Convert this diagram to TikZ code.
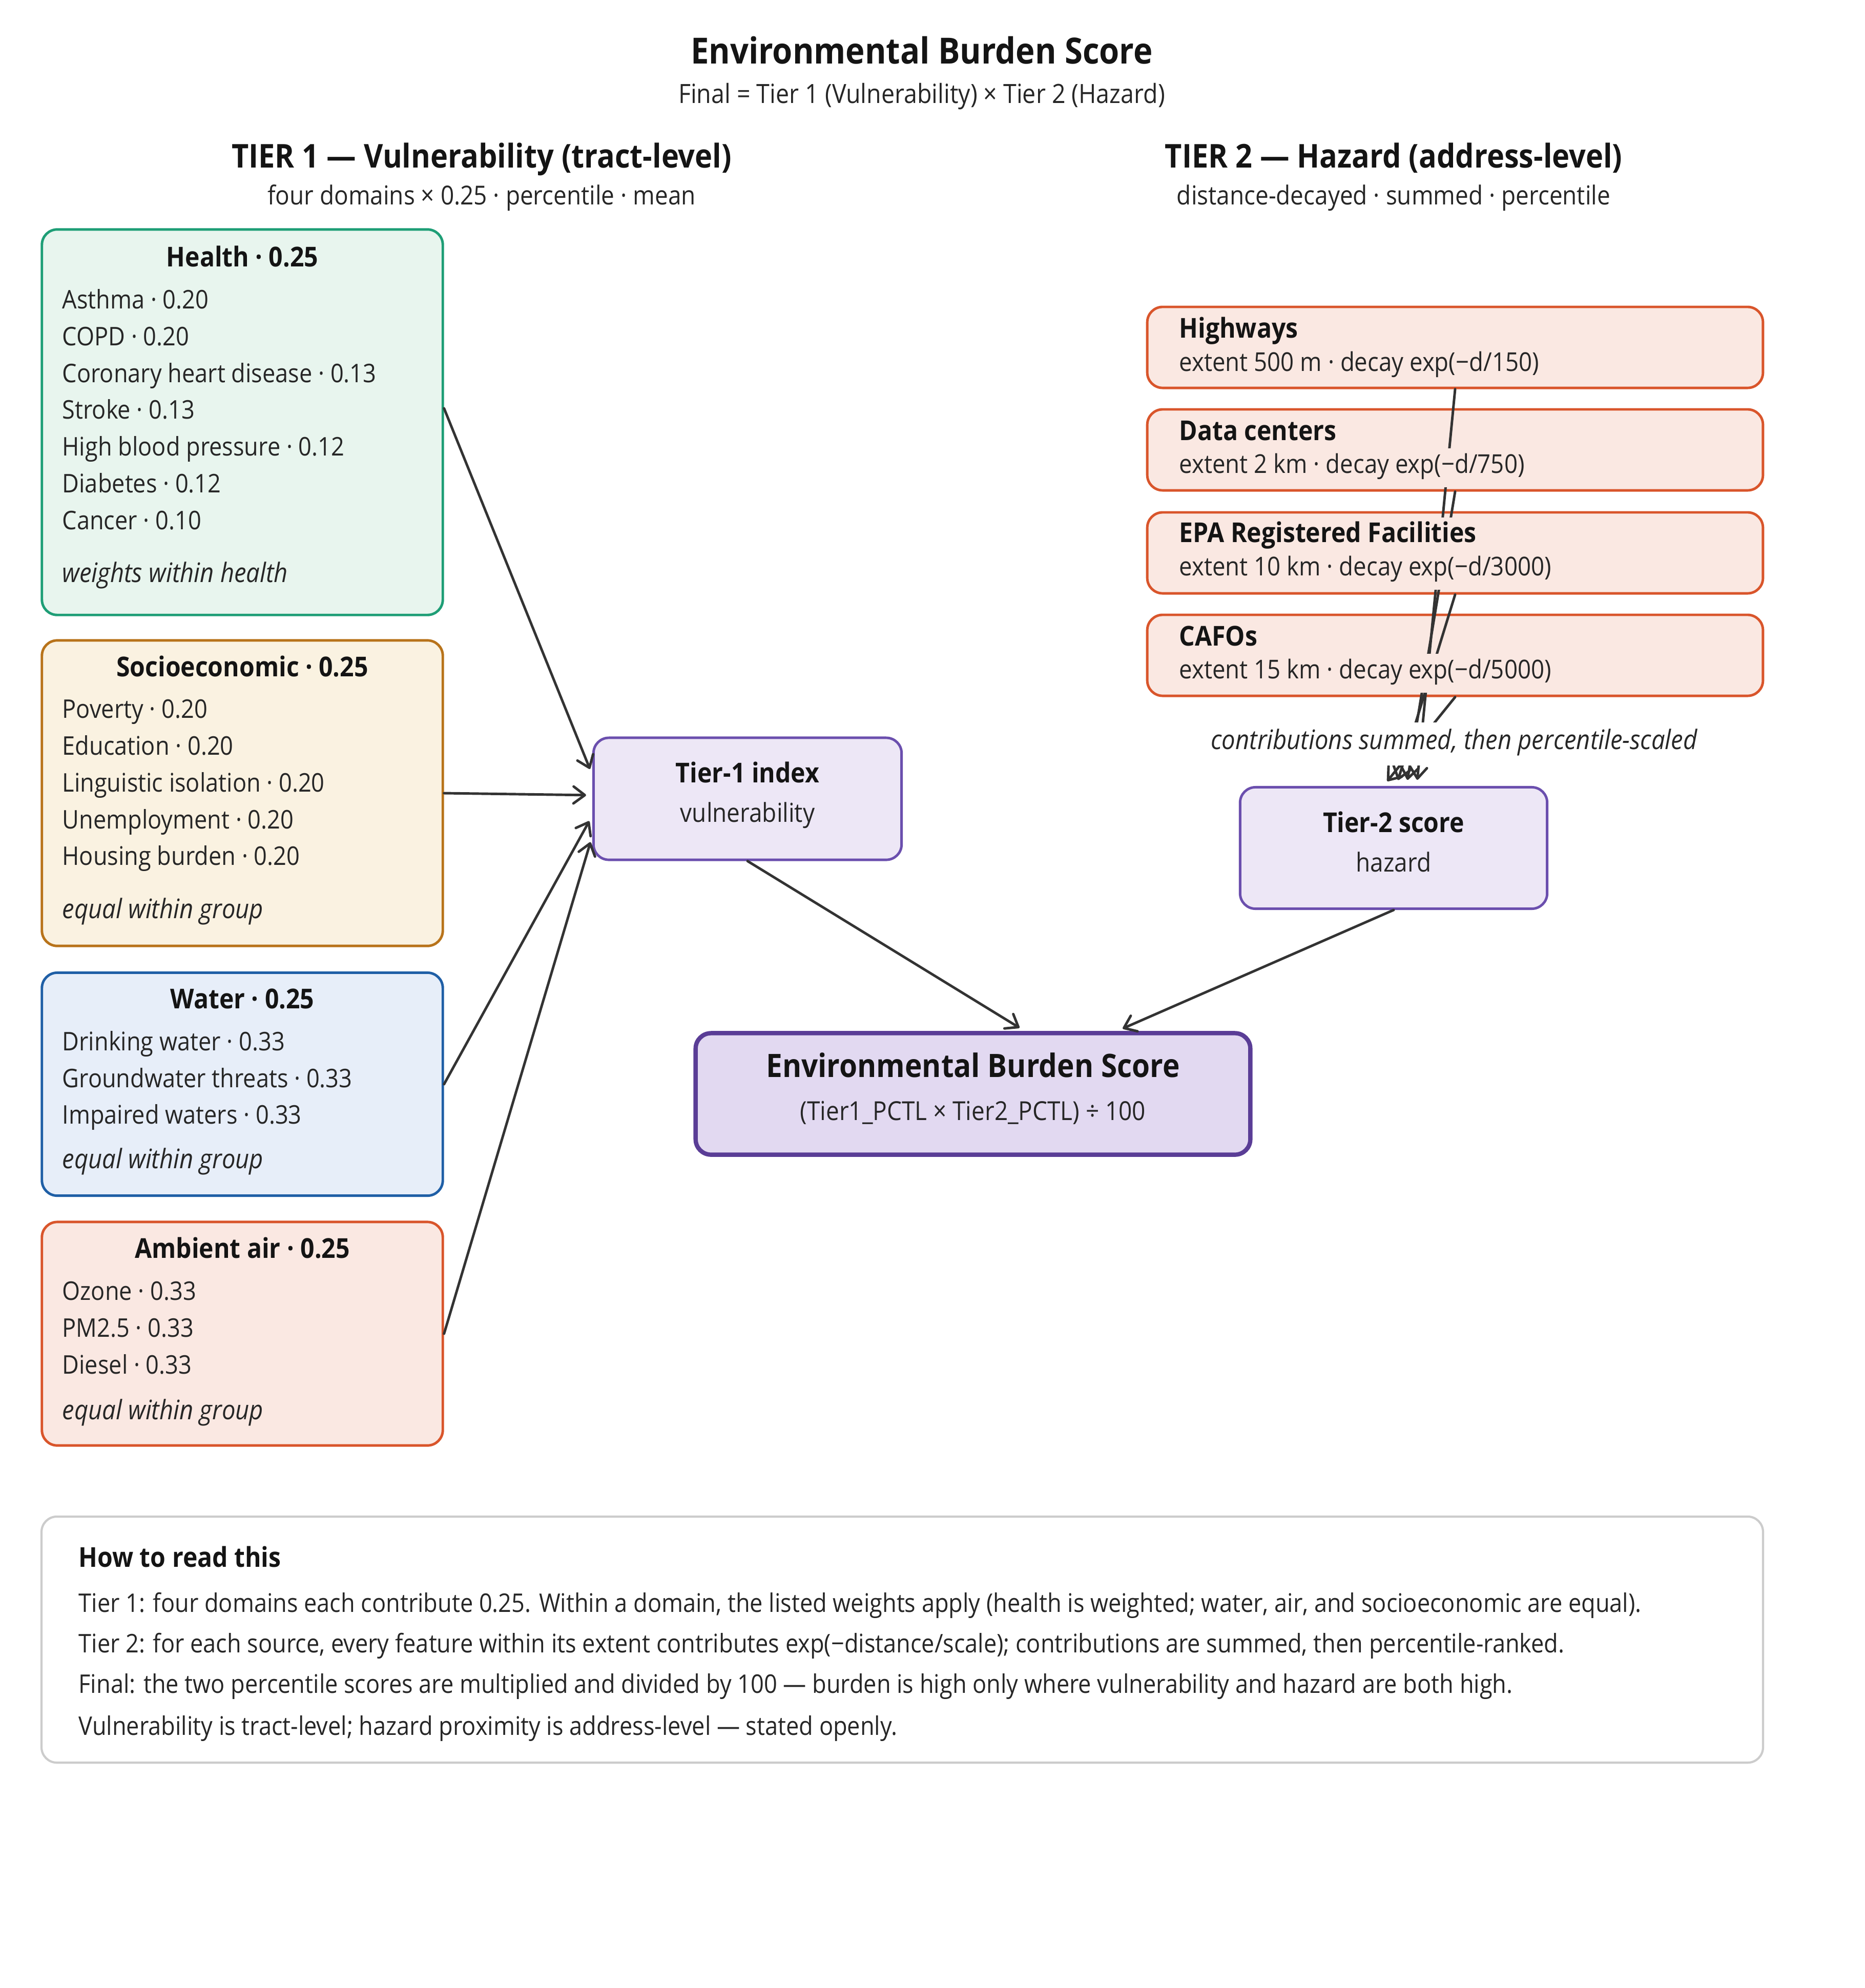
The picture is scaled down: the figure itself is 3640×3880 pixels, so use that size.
\documentclass[tikz,border=0pt]{standalone}
\usepackage{fontspec}
\setmainfont{Open Sans}[FakeStretch=0.9]
\usetikzlibrary{arrows.meta,positioning}

\definecolor{ink}{HTML}{141414}
\definecolor{body}{HTML}{262626}
\definecolor{wire}{HTML}{333333}
\definecolor{healthline}{HTML}{1E9E76}
\definecolor{healthfill}{HTML}{E8F5EE}
\definecolor{socioline}{HTML}{B8731A}
\definecolor{sociofill}{HTML}{FAF2E1}
\definecolor{waterline}{HTML}{1F5FA6}
\definecolor{waterfill}{HTML}{E7EEF9}
\definecolor{airline}{HTML}{D9552B}
\definecolor{airfill}{HTML}{FAE8E2}
\definecolor{indexline}{HTML}{6B4FAE}
\definecolor{indexfill}{HTML}{EDE7F6}
\definecolor{finalline}{HTML}{5A3D96}
\definecolor{finalfill}{HTML}{E2D9F1}
\definecolor{noteline}{HTML}{CCCCCC}

\tikzset{
  box/.style={draw, rounded corners=3mm, line width=1.4pt, inner sep=0pt},
  boxhead/.style={font=\fontsize{15.2}{18}\selectfont\bfseries, text=ink, inner sep=0pt,
    text height=1.55ex, text depth=.45ex, yshift=-0.08cm},
  item/.style={anchor=west, font=\fontsize{14.25}{17}\selectfont, text=body, inner sep=0pt,
    text height=1.55ex, text depth=.45ex, yshift=-0.08cm},
  aside/.style={item, font=\fontsize{14.9}{17}\selectfont\itshape},
  hazhead/.style={boxhead, anchor=west, fill=airfill, minimum height=0.76cm},
  hazitem/.style={item, font=\fontsize{14.4}{17}\selectfont, fill=airfill, minimum height=0.76cm},
  tierhead/.style={font=\fontsize{18.2}{21}\selectfont\bfseries, text=ink, inner sep=0pt,
    text height=1.55ex, text depth=.45ex, yshift=-0.08cm},
  tiersub/.style={font=\fontsize{14.5}{17}\selectfont, text=body, inner sep=0pt,
    text height=1.55ex, text depth=.45ex, yshift=-0.08cm},
  link/.style={draw=wire, line width=1.4pt, line cap=round,
    -{Straight Barb[length=2.2mm,width=3.3mm,round]}, shorten >=0.12cm},
}

\begin{document}
\begin{tikzpicture}[x=0.01cm, y=-0.01cm]
    \fill[white] (0,0) rectangle (3640,3880);
    \useasboundingbox (0,0) rectangle (3640,3880);

    % title
    \node[tierhead, font=\fontsize{20}{24}\selectfont\bfseries] (title) at (1799,106) {Environmental Burden Score};
    \node[tiersub, font=\fontsize{14.7}{17}\selectfont] (subtitle) at (1799,183) {Final = Tier 1 (Vulnerability) × Tier 2 (Hazard)};

    \node[tierhead] (tonehead) at (940,309) {TIER 1 — Vulnerability (tract-level)};
    \node[tiersub] (tonesub) at (940,381) {four domains × 0.25 · percentile · mean};
    \node[tierhead] (ttwohead) at (2720,309) {TIER 2 — Hazard (address-level)};
    \node[tiersub] (ttwosub) at (2720,381) {distance-decayed · summed · percentile};

    % tier 1 domains
    \node[box, draw=healthline, fill=healthfill, minimum width=7.82cm, minimum height=7.52cm] (health) at (473,824) {};
    \node[boxhead] (healthhead) at (473,502) {Health · 0.25};
    \node[item] (asthma) at (121,584) {Asthma · 0.20};
    \node[item] (copd) at (121,656) {COPD · 0.20};
    \node[item] (chd) at (121,728) {Coronary heart disease · 0.13};
    \node[item] (stroke) at (121,799) {Stroke · 0.13};
    \node[item] (bp) at (121,871) {High blood pressure · 0.12};
    \node[item] (diabetes) at (121,943) {Diabetes · 0.12};
    \node[item] (cancer) at (121,1015) {Cancer · 0.10};
    \node[aside] (healthnote) at (121,1118) {weights within health};

    \node[box, draw=socioline, fill=sociofill, minimum width=7.82cm, minimum height=5.96cm] (socio) at (473,1548) {};
    \node[boxhead] (sociohead) at (473,1302) {Socioeconomic · 0.25};
    \node[item] (poverty) at (121,1383) {Poverty · 0.20};
    \node[item] (education) at (121,1455) {Education · 0.20};
    \node[item] (linguistic) at (121,1527) {Linguistic isolation · 0.20};
    \node[item] (unemployment) at (121,1599) {Unemployment · 0.20};
    \node[item] (housing) at (121,1670) {Housing burden · 0.20};
    \node[aside] (socionote) at (121,1774) {equal within group};

    \node[box, draw=waterline, fill=waterfill, minimum width=7.82cm, minimum height=4.35cm] (water) at (473,2116) {};
    \node[boxhead] (waterhead) at (473,1950) {Water · 0.25};
    \node[item] (drinking) at (121,2032) {Drinking water · 0.33};
    \node[item] (groundwater) at (121,2104) {Groundwater threats · 0.33};
    \node[item] (impaired) at (121,2175) {Impaired waters · 0.33};
    \node[aside] (waternote) at (121,2262) {equal within group};

    \node[box, draw=airline, fill=airfill, minimum width=7.82cm, minimum height=4.36cm] (air) at (473,2603) {};
    \node[boxhead] (airhead) at (473,2437) {Ambient air · 0.25};
    \node[item] (ozone) at (121,2519) {Ozone · 0.33};
    \node[item] (pm) at (121,2591) {PM2.5 · 0.33};
    \node[item] (diesel) at (121,2663) {Diesel · 0.33};
    \node[aside] (airnote) at (121,2752) {equal within group};

    % index boxes
    \node[box, draw=indexline, fill=indexfill, minimum width=6.01cm, minimum height=2.38cm] (tone) at (1459,1559) {};
    \node[boxhead] (tonetitle) at (1459,1509) {Tier-1 index};
    \node[tiersub] (tonetext) at (1459,1586) {vulnerability};

    \node[box, draw=indexline, fill=indexfill, minimum width=5.99cm, minimum height=2.37cm] (ttwo) at (2720,1655) {};
    \node[boxhead] (ttwotitle) at (2720,1606) {Tier-2 score};
    \node[tiersub] (ttwotext) at (2720,1683) {hazard};

    \node[box, draw=finalline, fill=finalfill, line width=2.4pt, minimum width=10.82cm, minimum height=2.37cm] (final) at (1899,2135) {};
    \node[tierhead, font=\fontsize{17.9}{21}\selectfont\bfseries] (finaltitle) at (1899,2084) {Environmental Burden Score};
    \node[tiersub] (finaltext) at (1899,2168) {(Tier1\_PCTL × Tier2\_PCTL) ÷ 100};

    % tier 2 sources
    \node[box, draw=airline, fill=airfill, minimum width=12.01cm, minimum height=1.58cm] (hw) at (2840,678) {};
    \node[box, draw=airline, fill=airfill, minimum width=12.01cm, minimum height=1.58cm] (dc) at (2840,878) {};
    \node[box, draw=airline, fill=airfill, minimum width=12.01cm, minimum height=1.58cm] (epa) at (2840,1079) {};
    \node[box, draw=airline, fill=airfill, minimum width=12.01cm, minimum height=1.58cm] (cafo) at (2840,1279) {};

    % connectors
    \draw[link] ([yshift=0.27cm]health.east) -- ([yshift=0.47cm]tone.west);
    \draw[link] (socio.east) -- ([yshift=0.07cm]tone.west);
    \draw[link] (water.east) -- ([yshift=-0.33cm]tone.west);
    \draw[link] (air.east) -- ([yshift=-0.73cm]tone.west);

    \draw[link] (hw.south) -- ([xshift=0.45cm]ttwo.north);
    \draw[link] (dc.south) -- ([xshift=0.25cm]ttwo.north);
    \draw[link] (epa.south) -- ([xshift=0.05cm]ttwo.north);
    \draw[link] (cafo.south) -- ([xshift=-0.2cm]ttwo.north);

    \draw[link] (tone.south) -- ([xshift=1.01cm]final.north);
    \draw[link] (ttwo.south) -- ([xshift=2.81cm]final.north);

    % source labels go over the wires
    \node[hazhead] (hwhead) at (2301,641) {Highways};
    \node[hazitem] (hwtext) at (2301,706) {extent 500 m · decay exp(−d/150)};
    \node[hazhead] (dchead) at (2301,841) {Data centers};
    \node[hazitem] (dctext) at (2301,905) {extent 2 km · decay exp(−d/750)};
    \node[hazhead] (epahead) at (2301,1040) {EPA Registered Facilities};
    \node[hazitem] (epatext) at (2301,1105) {extent 10 km · decay exp(−d/3000)};
    \node[hazhead] (cafohead) at (2301,1242) {CAFOs};
    \node[hazitem] (cafotext) at (2301,1306) {extent 15 km · decay exp(−d/5000)};
    \node[aside, anchor=center, fill=white, minimum height=0.84cm] (summed) at (2838,1444) {contributions summed, then percentile-scaled};

    % reading guide
    \node[box, draw=noteline, fill=white, line width=1.2pt, minimum width=33.58cm, minimum height=4.8cm] (guide) at (1761,3200) {};
    \node[boxhead, anchor=west] (guidehead) at (153,3040) {How to read this};
    \node[item] (guideone) at (153,3128) {Tier 1: four domains each contribute 0.25. Within a domain, the listed weights apply (health is weighted; water, air, and socioeconomic are equal).};
    \node[item] (guidetwo) at (153,3207) {Tier 2: for each source, every feature within its extent contributes exp(−distance/scale); contributions are summed, then percentile-ranked.};
    \node[item] (guidethree) at (153,3286) {Final: the two percentile scores are multiplied and divided by 100 — burden is high only where vulnerability and hazard are both high.};
    \node[item] (guidefour) at (153,3368) {Vulnerability is tract-level; hazard proximity is address-level — stated openly.};
\end{tikzpicture}
\end{document}
